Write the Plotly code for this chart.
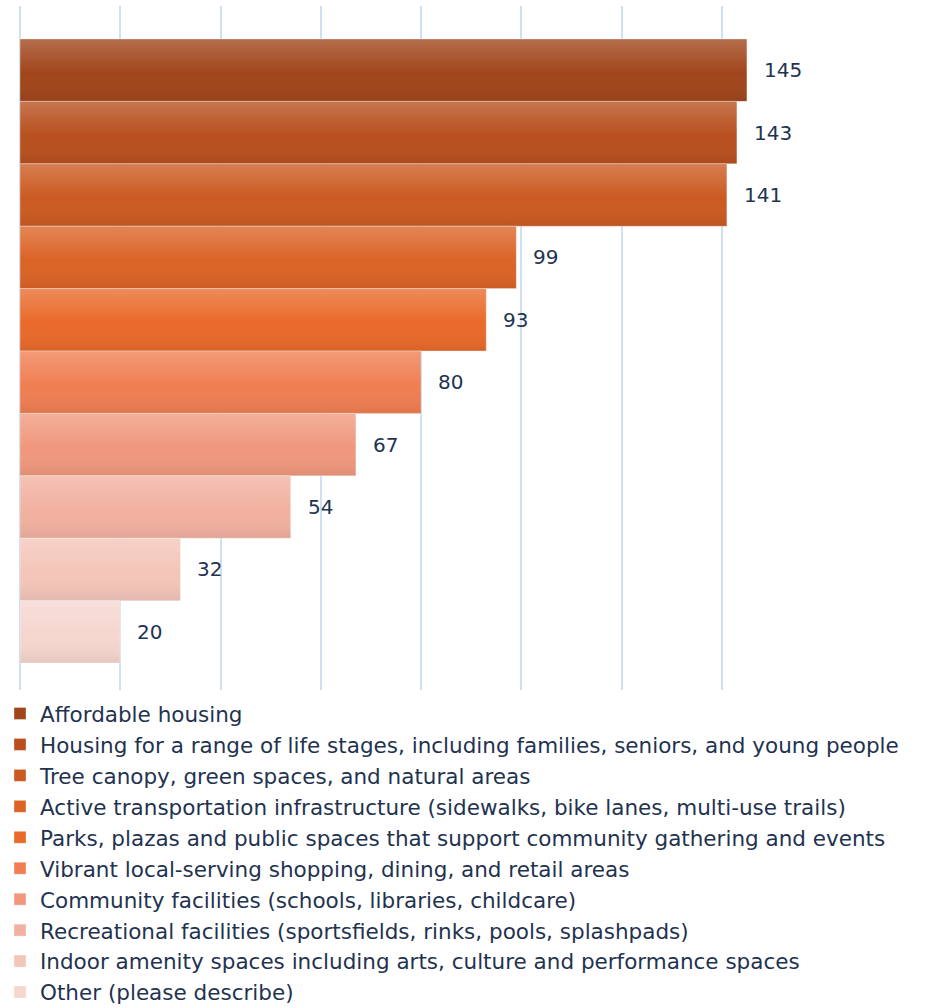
import plotly.graph_objects as go

# Survey priorities, listed from the top bar down
priorities = [
    "Affordable housing",
    "Housing for a range of life stages, including families, seniors, and young people",
    "Tree canopy, green spaces, and natural areas",
    "Active transportation infrastructure (sidewalks, bike lanes, multi-use trails)",
    "Parks, plazas and public spaces that support community gathering and events",
    "Vibrant local-serving shopping, dining, and retail areas",
    "Community facilities (schools, libraries, childcare)",
    "Recreational facilities (sportsfields, rinks, pools, splashpads)",
    "Indoor amenity spaces including arts, culture and performance spaces",
    "Other (please describe)",
]
responses = [145, 143, 141, 99, 93, 80, 67, 54, 32, 20]

bar_colors = [
    "#A1451B", "#B84F1E", "#CB5A21", "#DB6326", "#E96A2A",
    "#F07E52", "#F0987D", "#F2B1A0", "#F4C5B9", "#F6D6CF",
]

FONT = "DejaVu Sans"
TEXT_COLOR = "#1F3350"
GRID_COLOR = "#CFE0F3"

# soft sheen: lighter at the top of each bar, slightly darker at the bottom
sheen = [
    [0.0, "rgba(0,0,0,0.07)"],
    [0.45, "rgba(255,255,255,0)"],
    [1.0, "rgba(255,255,255,0.22)"],
]

n = len(responses)
fig = go.Figure()

for i, (name, val, col) in enumerate(zip(priorities, responses, bar_colors)):
    pos = n - i  # top bar gets the highest position
    fig.add_trace(go.Bar(
        x=[val], y=[pos], orientation="h", width=1,
        name=name, marker=dict(color=col, line=dict(color="rgba(255,255,255,0.35)", width=1)),
        hoverinfo="x+name",
    ))

for i, val in enumerate(responses):
    pos = n - i
    lo, hi = pos - 0.5, pos + 0.5
    fig.add_trace(go.Scatter(
        x=[0, val, val, 0, 0], y=[lo, lo, hi, hi, lo],
        mode="none", fill="toself",
        fillgradient=dict(type="vertical", colorscale=sheen),
        showlegend=False, hoverinfo="skip",
    ))
    fig.add_annotation(
        x=val, y=pos, text=str(val), showarrow=False,
        xanchor="left", xshift=15,
        font=dict(family=FONT, size=20, color=TEXT_COLOR),
    )

fig.update_layout(
    width=947, height=1008,
    margin=dict(l=20, r=175, t=6, b=318, autoexpand=False),
    paper_bgcolor="white", plot_bgcolor="white",
    barmode="overlay",
    showlegend=True,
    legend=dict(
        xref="container", yref="container",
        x=0.0, y=1 - 693 / 1008, xanchor="left", yanchor="top",
        font=dict(family=FONT, size=21.5, color=TEXT_COLOR),
        traceorder="normal", itemclick=False, itemdoubleclick=False,
        bgcolor="rgba(0,0,0,0)",
    ),
    xaxis=dict(
        range=[0, 150], dtick=20, showticklabels=False, ticks="",
        showgrid=True, gridcolor=GRID_COLOR, gridwidth=1.5,
        zeroline=True, zerolinecolor=GRID_COLOR, zerolinewidth=1.5,
        showline=False, fixedrange=True,
    ),
    yaxis=dict(
        range=[0.068, 11.028], showticklabels=False, ticks="",
        showgrid=False, zeroline=False, showline=False, fixedrange=True,
    ),
    font=dict(family=FONT, color=TEXT_COLOR),
)

fig.write_html("out.html")
